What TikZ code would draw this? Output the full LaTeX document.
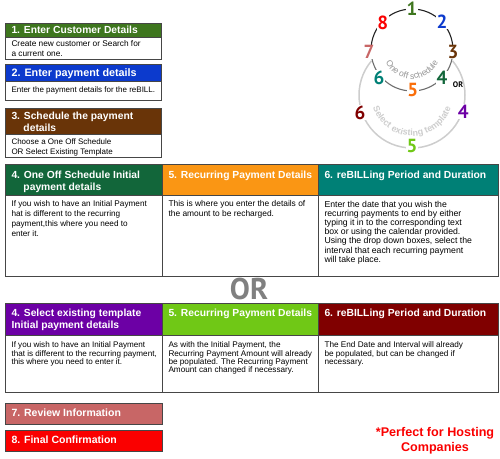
\documentclass[tikz,border=0pt]{standalone}
\usepackage{fontspec}
\setmainfont{Liberation Sans}
\newfontfamily\hdfam{PT Sans}
\usetikzlibrary{positioning,decorations.text}

\definecolor{frame}{RGB}{70,70,70}
\definecolor{stepone}{RGB}{62,118,30}
\definecolor{steptwo}{RGB}{12,58,205}
\definecolor{stepthree}{RGB}{105,52,8}
\definecolor{onefour}{RGB}{18,102,58}
\definecolor{onefive}{RGB}{250,150,20}
\definecolor{onesix}{RGB}{0,128,118}
\definecolor{tplfour}{RGB}{108,0,165}
\definecolor{tplfive}{RGB}{112,200,22}
\definecolor{tplsix}{RGB}{128,0,0}
\definecolor{stepseven}{RGB}{200,102,102}
\definecolor{stepeight}{RGB}{250,0,0}
\definecolor{ringfive}{RGB}{250,110,10}
\definecolor{ringtop}{RGB}{35,35,35}
\definecolor{ringlow}{RGB}{110,110,110}
\definecolor{tplarc}{RGB}{205,205,205}
\definecolor{ringtext}{RGB}{150,150,150}
\definecolor{orgrey}{RGB}{128,128,128}

\begin{document}
\begin{tikzpicture}[x=1pt, y=1pt,
    cell/.style n args={3}{rectangle, draw=frame, line width=0.9pt, outer sep=0pt, inner sep=0pt, anchor=north west,
      execute at begin node={\begin{minipage}[t][#2][t]{#1}\raggedright\leftskip=6.5pt\rightskip=0pt plus 1fil\vspace*{#3}},
      execute at end node={\end{minipage}}},
    head/.style={text=white, font=\bfseries\fontsize{10.3}{12}\selectfont},
    body/.style={fill=white, font=\fontsize{8.2}{10}\selectfont},
    num/.style={fill=white, inner sep=0.5pt, font=\hdfam\bfseries\fontsize{19}{19}\selectfont}]
\useasboundingbox (0,0) rectangle (500,458);

% steps 1 to 3
\node[cell={156pt}{14pt}{3.3pt}, head, fill=stepone] (hd1) at (5,435) {1. Enter Customer Details};
\node[cell={156pt}{22pt}{3.3pt}, body, font=\fontsize{8.3}{10}\selectfont, below=0pt of hd1] (bd1) {Create new customer or Search for\\a current one.};
\node[cell={156pt}{17pt}{4.5pt}, head, fill=steptwo, font=\bfseries\fontsize{10.8}{12}\selectfont] (hd2) at (5,394) {2. Enter payment details};
\node[cell={156pt}{19pt}{5.5pt}, body, font=\fontsize{8}{10}\selectfont, below=0pt of hd2] (bd2) {Enter the payment details for the reBILL.};
\node[cell={156pt}{26pt}{4.2pt}, head, fill=stepthree, font=\bfseries\fontsize{10.3}{11.7}\selectfont] (hd3) at (5,350) {3. Schedule the payment\\\hspace*{12pt}details};
\node[cell={156pt}{23pt}{4.6pt}, body, font=\fontsize{8}{10}\selectfont, below=0pt of hd3] (bd3) {Choose a One Off Schedule\\OR Select Existing Template};

% one off schedule
\node[cell={157pt}{31pt}{7pt}, head, fill=onefour] (hd4a) at (5,294) {4. One Off Schedule Initial\\\hspace*{12pt}payment details};
\node[cell={156pt}{31pt}{7pt}, head, fill=onefive, right=0pt of hd4a] (hd5a) {5. Recurring Payment Details};
\node[cell={180pt}{31pt}{7pt}, head, fill=onesix, right=0pt of hd5a] (hd6a) {6. reBILLing Period and Duration};
\node[cell={157pt}{81pt}{5.8pt}, body, below=0pt of hd4a] (bd4a) {If you wish to have an Initial Payment\\hat is different to the recurring\\payment,this where you need to\\enter it.};
\node[cell={156pt}{81pt}{5.8pt}, body, font=\fontsize{8.4}{10}\selectfont, below=0pt of hd5a] (bd5a) {This is where you enter the details of\\the amount to be recharged.};
\node[cell={180pt}{81pt}{5.8pt}, body, font=\fontsize{8.7}{9.2}\selectfont, below=0pt of hd6a] (bd6a) {Enter the date that you wish the\\recurring payments to end by either\\typing it in to the corresponding text\\box or using the calendar provided.\\Using the drop down boxes, select the\\interval that each recurring payment\\will take place.};

\node[font=\hdfam\bfseries\fontsize{30}{30}\selectfont, text=orgrey] (or) at (249,169) {OR};

% select existing template
\node[cell={157pt}{32pt}{6pt}, head, fill=tplfour, font=\bfseries\fontsize{10.3}{12.3}\selectfont] (hd4b) at (5,155) {4. Select existing template\\Initial payment details};
\node[cell={156pt}{32pt}{6pt}, head, fill=tplfive, right=0pt of hd4b] (hd5b) {5. Recurring Payment Details};
\node[cell={180pt}{32pt}{6pt}, head, fill=tplsix, right=0pt of hd5b] (hd6b) {6. reBILLing Period and Duration};
\node[cell={157pt}{57pt}{7pt}, body, font=\fontsize{8.1}{8.2}\selectfont, below=0pt of hd4b] (bd4b) {If you wish to have an Initial Payment\\that is different to the recurring payment,\\this where you need to enter it.};
\node[cell={156pt}{57pt}{7pt}, body, font=\fontsize{8.2}{8.2}\selectfont, below=0pt of hd5b] (bd5b) {As with the Initial Payment, the\\Recurring Payment Amount will already\\be populated. The Recurring Payment\\Amount can changed if necessary.};
\node[cell={180pt}{57pt}{7pt}, body, font=\fontsize{8.2}{8.2}\selectfont, below=0pt of hd6b] (bd6b) {The End Date and Interval will already\\be populated, but can be changed if\\necessary.};

% steps 7 and 8
\node[cell={157pt}{21pt}{6.3pt}, head, fill=stepseven, font=\bfseries\fontsize{10.5}{12}\selectfont] (hd7) at (5,55) {7. Review Information};
\node[cell={157pt}{21pt}{6.3pt}, head, fill=stepeight, font=\bfseries\fontsize{10.5}{12}\selectfont] (hd8) at (5,28) {8. Final Confirmation};

\node[align=center, text=stepeight, font=\bfseries\fontsize{12.6}{15.5}\selectfont] (perfect) at (435,17.5) {*Perfect for Hosting\\Companies};

% the ring
\coordinate (ring) at (412,408);
\coordinate (tpl) at (412,363);
\draw[line width=1.5pt, tplarc] ([shift={(140:53)}]tpl) arc[start angle=140, end angle=400, radius=53];
\draw[line width=1.1pt, ringtop] ([shift={(180:41)}]ring) arc[start angle=180, end angle=0, radius=41];
\draw[line width=1.1pt, ringlow] ([shift={(180:41)}]ring) arc[start angle=180, end angle=360, radius=41];
\path[decorate, decoration={text along path, text align=center, text color=ringtext,
    text={|\fontsize{8.7}{8.7}\selectfont|One off schedule}}]
  ([shift={(200:29)}]ring) arc[start angle=200, end angle=340, radius=29];
\path[decorate, decoration={text along path, text align=center, text color=tplarc,
    text={|\bfseries\fontsize{9}{9}\selectfont|Select existing template}}]
  ([shift={(186:41)}]tpl) arc[start angle=186, end angle=354, radius=41];

\node[num, text=stepone] (n1) at ([shift={(90:41)}]ring) {1};
\node[num, text=steptwo] (n2) at ([shift={(43:41)}]ring) {2};
\node[num, text=stepthree] (n3) at ([shift={(-3:41)}]ring) {3};
\node[num, text=onefour] (n4) at ([shift={(-43:41)}]ring) {4};
\node[num, text=ringfive] (n5) at ([shift={(-89:40)}]ring) {5};
\node[num, text=onesix] (n6) at ([shift={(220:43)}]ring) {6};
\node[num, text=stepseven] (n7) at ([shift={(183:43)}]ring) {7};
\node[num, text=stepeight] (n8) at ([shift={(137:40)}]ring) {8};
\node[font=\hdfam\bfseries\fontsize{8}{8}\selectfont] (ringor) at (458,373) {OR};
\node[num, text=tplsix] (t6) at ([shift={(199:55)}]tpl) {6};
\node[num, text=tplfour] (t4) at ([shift={(-18:54)}]tpl) {4};
\node[num, text=tplfive] (t5) at ([shift={(-90:51)}]tpl) {5};
\end{tikzpicture}
\end{document}
